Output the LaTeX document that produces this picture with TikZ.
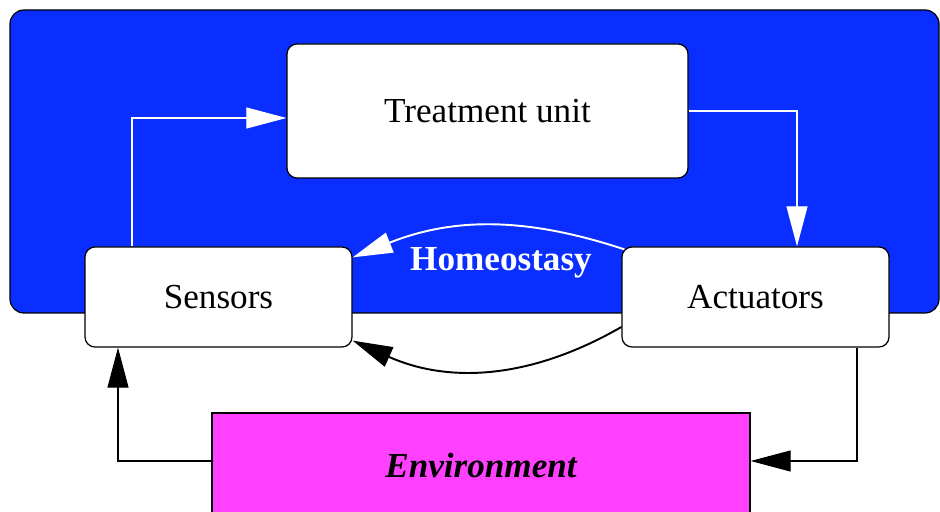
\documentclass[tikz,border=0pt]{standalone}
\usepackage{fontspec}
\setmainfont{Liberation Serif}
\usetikzlibrary{arrows.meta}
\definecolor{loopblue}{RGB}{10,46,255}
\definecolor{envpink}{RGB}{255,64,255}
\begin{document}
\begin{tikzpicture}[
    unit/.style={draw, fill=white, rounded corners=0.2cm, line width=0.7pt,
        font=\fontsize{20}{24}\selectfont},
    wire/.style={line width=0.6pt, -{Triangle[length=0.8cm, width=0.42cm]}},
    arc/.style={line width=1.1pt, -{Triangle[length=0.8cm, width=0.42cm]}}
]
            \useasboundingbox (0,0) rectangle (18.8,10.22);

            \fill[loopblue, draw=black, line width=0.7pt, rounded corners=0.28cm]
                (0.2,3.96) rectangle (18.78,10.02);

            \node[unit, minimum width=8.02cm, minimum height=2.68cm] (treat) at (9.75,8.0) {Treatment unit};
            \node[unit, minimum width=5.34cm, minimum height=2cm] (sens) at (4.37,4.28) {Sensors};
            \node[unit, minimum width=5.34cm, minimum height=2cm] (act) at (15.11,4.28) {Actuators};
            \node[draw, fill=envpink, line width=0.7pt, minimum width=10.76cm, minimum height=2.08cm,
                font=\fontsize{20}{24}\selectfont\bfseries\itshape] (env) at (9.62,0.92) {Environment};

            \draw[wire, white] ([xshift=-1.73cm]sens.north) |- ([yshift=-0.14cm]treat.west);
            \draw[wire, white] (treat.east) -| ([xshift=0.83cm]act.north);

            \draw[arc, white] ([xshift=0.06cm, yshift=-0.06cm]act.north west)
                to[bend right=20] ([yshift=-0.22cm]sens.north east);
            \node[white, font=\fontsize{20}{24}\selectfont\bfseries] (homeo) at (10.02,4.96) {Homeostasy};

            \draw[arc] ([yshift=-0.6cm]act.west) to[bend left=27] ([yshift=0.14cm]sens.south east);

            \draw[wire] ([yshift=0.08cm]env.west) -| ([xshift=-2.01cm]sens.south);
            \draw[wire] ([xshift=2.03cm]act.south) |- ([yshift=0.08cm]env.east);
        \end{tikzpicture}
\end{document}
